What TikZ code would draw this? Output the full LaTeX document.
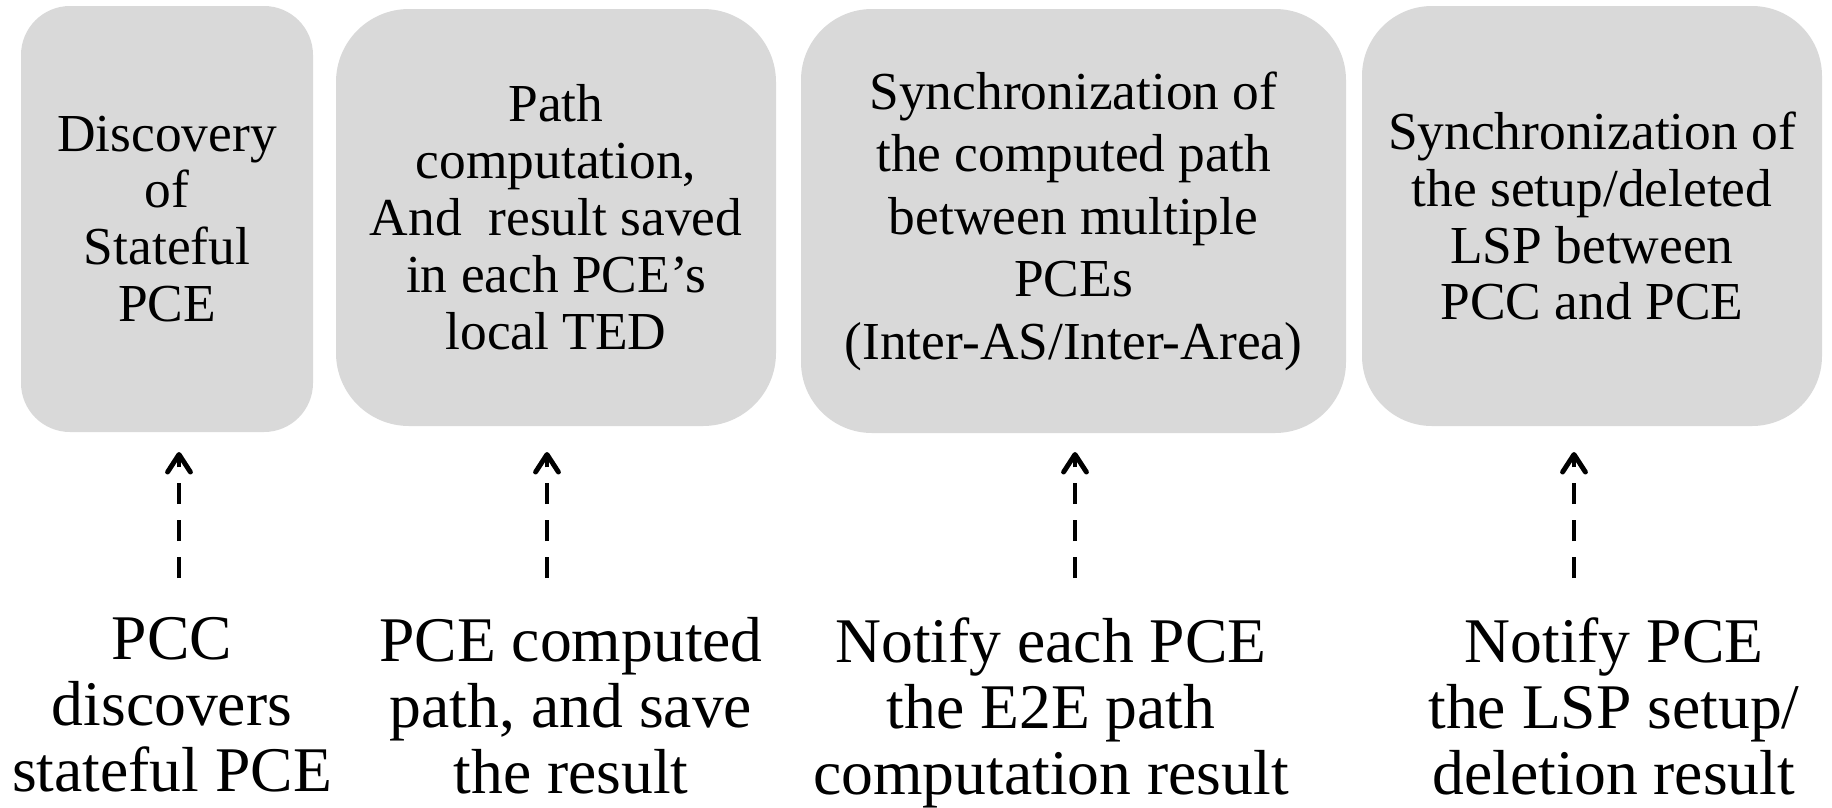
\documentclass[tikz,border=0pt]{standalone}
\usepackage{fontspec}
\setmainfont{Liberation Serif}
\usepackage{xcolor}
\usetikzlibrary{arrows.meta}
\definecolor{boxgray}{RGB}{217,217,217}

\begin{document}
\begin{tikzpicture}[
  stage/.style={fill=boxgray, align=center, inner sep=0pt,
    font=\fontsize{15.2}{16.2}\selectfont},
  note/.style={align=center, inner sep=0pt, anchor=north,
    font=\fontsize{18.1}{18.8}\selectfont},
  notify/.style={line width=1.4pt, dash pattern=on 6pt off 4.5pt,
    -{Straight Barb[length=5pt,width=6.5pt,round]}}
]
\useasboundingbox (0,0) rectangle (18.32,8.07);

\node[stage, minimum width=2.92cm, minimum height=4.26cm, rounded corners=0.49cm] (disc) at (1.67,5.88) {Discovery\\of\\Stateful\\PCE};
\node[stage, minimum width=4.40cm, minimum height=4.17cm, rounded corners=0.73cm] (comp) at (5.56,5.895) {Path\\computation,\\And~ result saved\\in each PCE’s\\local TED};
\node[stage, minimum width=5.45cm, minimum height=4.24cm, rounded corners=0.71cm,
  font=\fontsize{15.2}{17.8}\selectfont] (sync) at (10.735,5.86) {Synchronization of\\the computed path\\between multiple\\PCEs\\(Inter-AS/Inter-Area)};
\node[stage, minimum width=4.60cm, minimum height=4.20cm, rounded corners=0.70cm] (lsp) at (15.92,5.91) {Synchronization of\\the setup/deleted\\LSP between\\PCC and PCE};

\node[note] (pcc) at (1.72,1.90) {PCC\\discovers\\stateful PCE};
\node[note] (pce) at (5.71,1.90) {PCE computed\\path, and save\\the result};
\node[note] (each) at (10.51,1.90) {Notify each PCE\\the E2E path\\computation result};
\node[note] (res) at (16.14,1.90) {Notify PCE\\the LSP setup/\\deletion result};

\foreach \i/\x in {1/1.79,2/5.47,3/10.75,4/15.74} {
  \coordinate (s\i) at (\x,2.29);
  \coordinate (e\i) at (\x,3.55);
  \draw[notify] (s\i) -- (e\i);
}
\end{tikzpicture}
\end{document}
